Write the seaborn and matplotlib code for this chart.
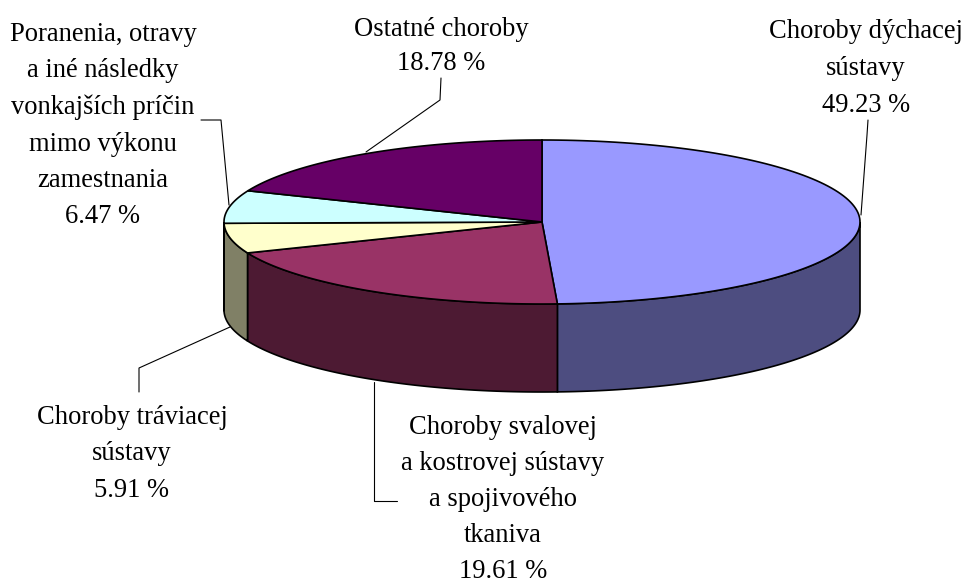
import numpy as np
import matplotlib
matplotlib.use('Agg')
import matplotlib.pyplot as plt
import seaborn as sns

categories = ['Choroby dýchacej\nsústavy', 'Choroby svalovej\na kostrovej sústavy\na spojivového\ntkaniva',
              'Choroby tráviacej\nsústavy',
              'Poranenia, otravy\na iné následky\nvonkajších príčin\nmimo výkonu\nzamestnania', 'Ostatné choroby']
values = [49.23, 19.61, 5.91, 6.47, 18.78]
top_colors = ['#9999FF', '#993366', '#FFFFCC', '#CCFFFF', '#660066']
side_colors = ['#4D4D80', '#4D1A33', '#808066', '#668080', '#330033']

sns.set_theme(style='white')
plt.rcParams['font.family'] = ['Liberation Serif', 'DejaVu Serif']

cx, cy, rx, ry, depth = 542, 222, 318, 82, 88


def pt(t):
    return cx + rx * np.sin(t), cy - ry * np.cos(t)


fig = plt.figure(figsize=(9.7, 5.83), dpi=100)
ax = fig.add_axes([0, 0, 1, 1])
ax.set_xlim(0, 970)
ax.set_ylim(583, 0)
ax.axis('off')

edges = np.radians(np.concatenate([[0], np.cumsum(values)]) * 3.6)
edges[-1] = 2 * np.pi

# side walls, only the front half shows
for i in range(len(values)):
    a, b = max(edges[i], np.pi / 2), min(edges[i + 1], 3 * np.pi / 2)
    if a >= b:
        continue
    t = np.linspace(a, b, 80)
    x, y = pt(t)
    ax.fill(np.r_[x, x[::-1]], np.r_[y, y[::-1] + depth], fc=side_colors[i], ec='black', lw=1.2, zorder=2)

# top of the pie
for i in range(len(values)):
    t = np.linspace(edges[i], edges[i + 1], 120)
    x, y = pt(t)
    ax.fill(np.r_[cx, x], np.r_[cy, y], fc=top_colors[i], ec='black', lw=1.2, zorder=3)

# labels
label_pos = [(866, 68.5), (503, 499.5), (132, 454), (103, 125.5), (441, 46.5)]
label_spacing = [1.62, 1.58, 1.6, 1.6, 1.5]
for name, v, (lx, ly), sp in zip(categories, values, label_pos, label_spacing):
    ax.text(lx, ly, f'{name}\n{v:.2f} %', ha='center', va='center', fontsize=19.1, color='black',
            linespacing=sp, zorder=5)

# leader lines
leaders = [
    ([861, 867, 868], [215, 135, 120]),
    ([374, 374, 397], [382, 501, 501]),
    ([230, 139, 139], [327, 368, 392]),
    ([229, 221, 201], [205, 120, 120]),
    ([366, 440, 441], [152, 100, 78]),
]
for lx, ly in leaders:
    ax.plot(lx, ly, color='black', lw=0.8, zorder=1)

fig.savefig('out.png', dpi=100)
